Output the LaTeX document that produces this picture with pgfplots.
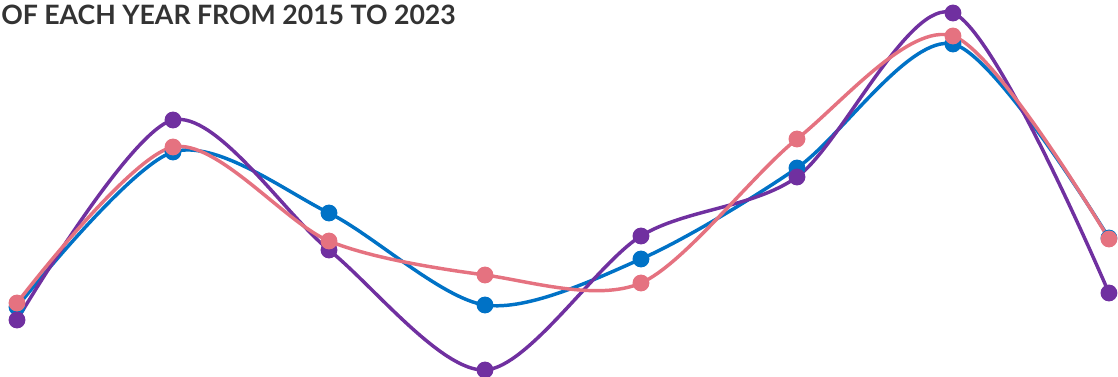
\documentclass[border=0pt]{standalone}
\usepackage{pgfplots}
\pgfplotsset{compat=1.18}
\usepackage{fontspec}
\setmainfont{Lato}
\definecolor{cblue}{RGB}{0,114,198}
\definecolor{cpurple}{RGB}{112,48,160}
\definecolor{cpink}{RGB}{229,114,128}
\begin{document}
\begin{tikzpicture}[x=0.75pt,y=0.75pt]
\useasboundingbox (0,0) rectangle (1118,377);
\clip (0,0) rectangle (1118,377);
\begin{axis}[at={(0,0)},anchor=south west,
  width=838.5pt,height=282.75pt,scale only axis,
  xmin=-0.109,xmax=7.058,ymin=0,ymax=377,
  hide axis, clip=false,
  every axis plot/.append style={line width=2.6pt,smooth,mark=*,mark size=5pt}]
\addplot[cblue,mark options={fill=cblue}] coordinates {(0,70) (1,225) (2,164) (3,72) (4,118) (5,209) (6,333) (7,139)};
\addplot[cpurple,mark options={fill=cpurple}] coordinates {(0,57) (1,257) (2,127) (3,7) (4,141) (5,200) (6,364) (7,84)};
\addplot[cpink,mark options={fill=cpink}] coordinates {(0,74) (1,230) (2,136) (3,102) (4,94) (5,238) (6,341) (7,138)};
\end{axis}
\node[anchor=base west,text=black!80,font=\bfseries\fontsize{20}{22}\selectfont,inner sep=0pt] at (1,352) {OF EACH YEAR FROM 2015 TO 2023};
\end{tikzpicture}
\end{document}
